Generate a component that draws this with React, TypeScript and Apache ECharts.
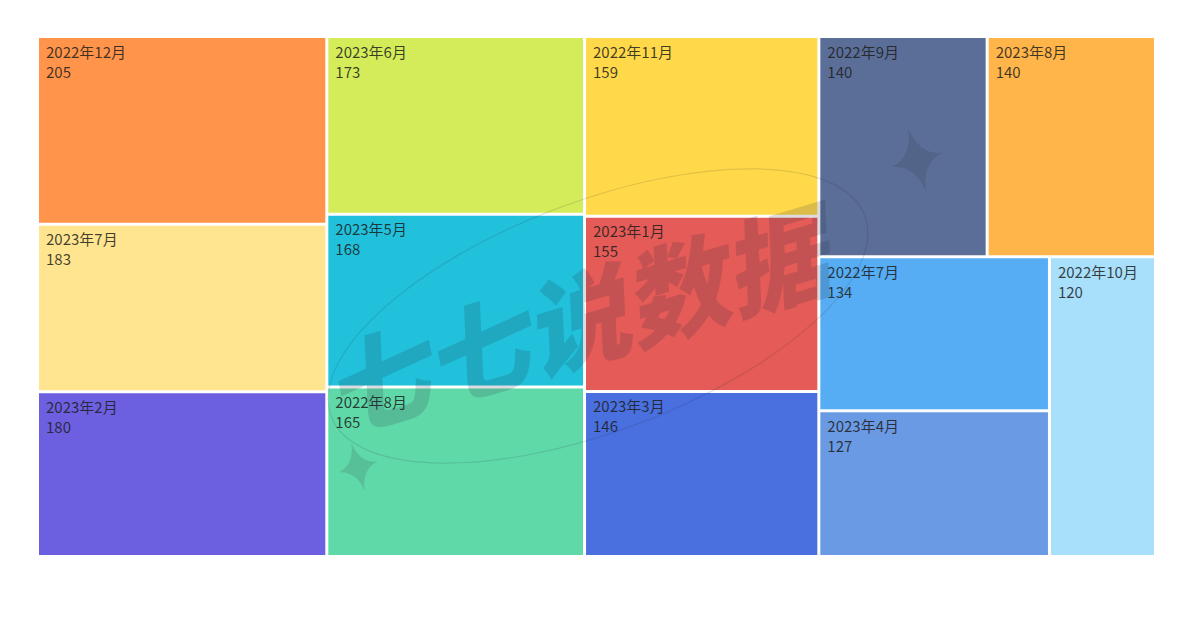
import React, { useEffect, useRef } from "react";
import * as echarts from "echarts";

const months = [
  "2022年12月", "2023年7月", "2023年2月", "2023年6月", "2023年5月", "2022年8月", "2022年11月",
  "2023年1月", "2023年3月", "2023年8月", "2022年9月", "2022年7月", "2023年4月", "2022年10月",
];
const values = [205, 183, 180, 173, 168, 165, 159, 155, 146, 140, 140, 134, 127, 120];
const colors = [
  "#FF944A", "#FFE58F", "#6C5FE0", "#D4EC5A", "#21C1DB", "#60D9A9", "#FFD94A",
  "#E45B57", "#4A70E0", "#FFB54A", "#5A6E97", "#56ADF4", "#6B9AE4", "#A8DFFA",
];
const watermarkText = "七七说数据";

let registered = false;
function ensureShapes() {
  if (registered) return;
  registered = true;
  echarts.graphic.registerShape(
    "star4",
    echarts.graphic.extendPath(
      "M0 -50 Q7 -7 50 0 Q7 7 0 50 Q-7 7 -50 0 Q-7 -7 0 -50Z",
      {}
    ) as any
  );
}

export default function App() {
  const ref = useRef<HTMLDivElement>(null);
  useEffect(() => {
    if (!ref.current) return;
    ensureShapes();
    const chart = echarts.init(ref.current, undefined, { renderer: "svg" });
    const data = months.map((m, i) => ({
      name: m,
      value: values[i],
      itemStyle: { color: colors[i] },
    }));
    const wmColor = "rgba(40,40,60,0.16)";
    chart.setOption({
      animation: false,
      series: [
        {
          type: "treemap",
          left: 28,
          top: 27,
          width: 1121,
          height: 523,
          roam: false,
          nodeClick: false,
          breadcrumb: { show: false },
          itemStyle: { borderColor: "#fff", borderWidth: 1.5, gapWidth: 0 },
          label: {
            show: true,
            position: "insideTopLeft",
            formatter: "{b}\n{c}",
            color: "rgba(30,30,30,0.85)",
            fontSize: 15,
            lineHeight: 20,
            fontFamily: "Noto Sans CJK SC",
            padding: [3, 7],
          },
          data,
        },
      ],
      graphic: [
        {
          type: "ellipse",
          x: 590,
          y: 308,
          rotation: 0.36,
          z: 100,
          silent: true,
          shape: { cx: 0, cy: 0, rx: 285, ry: 115 },
          style: { fill: "none", stroke: "rgba(40,40,60,0.14)", lineWidth: 1.2 },
        },
        {
          type: "text",
          x: 565,
          y: 308,
          rotation: 0.29,
          z: 100,
          silent: true,
          style: {
            text: watermarkText,
            fontSize: 104,
            fontWeight: 900,
            fontStyle: "italic",
            fontFamily: "Noto Sans CJK SC",
            fill: wmColor,
            align: "center",
            verticalAlign: "middle",
          },
        },
        {
          type: "star4",
          x: 909,
          y: 152,
          rotation: 0.27,
          scaleX: 0.52,
          scaleY: 0.66,
          z: 100,
          silent: true,
          style: { fill: "rgba(40,40,60,0.14)" },
        },
        {
          type: "star4",
          x: 350,
          y: 459,
          rotation: 0.27,
          scaleX: 0.4,
          scaleY: 0.5,
          z: 100,
          silent: true,
          style: { fill: "rgba(40,40,60,0.14)" },
        },
      ],
    });
    return () => chart.dispose();
  }, []);
  return <div ref={ref} style={{ width: 1177, height: 615 }} />;
}
